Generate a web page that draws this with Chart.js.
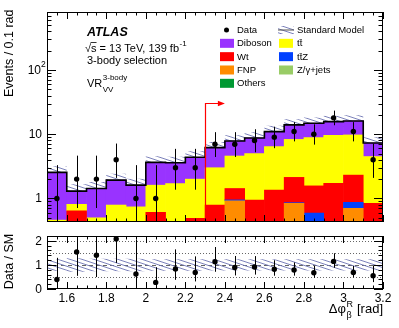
<!DOCTYPE html>
<html>
<head>
<meta charset="utf-8">
<title>VR VV 3-body</title>
<script src="https://cdn.jsdelivr.net/npm/chart.js@4.4.1/dist/chart.umd.min.js"></script>
<style>
  html, body { margin: 0; padding: 0; background: #fff; }
  .wrap { position: relative; width: 399px; height: 328px; }
  canvas { position: absolute; left: 0; }
  #main { top: 0; }
  #ratio { top: 228px; }
</style>
</head>
<body>
<div class="wrap">
  <canvas id="main" width="399" height="228"></canvas>
  <canvas id="ratio" width="399" height="100"></canvas>
</div>
<script>
// bins of delta phi (0.1 rad wide)
const binCenters = [1.55, 1.65, 1.75, 1.85, 1.95, 2.05, 2.15, 2.25, 2.35, 2.45, 2.55, 2.65, 2.75, 2.85, 2.95, 3.05, 3.15];
const dataCounts = [1, 2, 2, 4, 1, 1, 3, 3, 7, 7, 8, 9, 11, 10, 18, 11, 4];
const dataLow = [0.17, 0.71, 0.71, 2.09, 0.17, 0.17, 1.37, 1.37, 4.42, 4.42, 5.23, 6.06, 7.74, 6.89, 13.8, 7.74, 2.09];
const dataHigh = [3.30, 4.64, 4.64, 7.16, 3.30, 3.30, 5.92, 5.92, 10.77, 10.77, 11.95, 13.11, 15.42, 14.27, 23.3, 15.42, 7.16];

// backgrounds, bottom of the stack first
const others = [0.02, 0.02, 0.02, 0.02, 0.02, 0.02, 0.02, 0.02, 0.02, 0.02, 0.02, 0.02, 0.02, 0.02, 0.02, 0.02, 0.02];
const zjets = [0.02, 0.02, 0.02, 0.02, 0.02, 0.02, 0.02, 0.02, 0.02, 0.02, 0.02, 0.02, 0.02, 0.02, 0.02, 0.02, 0.02];
const fnp = [0, 0, 0, 0, 0, 0, 0, 0, 0, 0.88, 0, 0, 0.80, 0, 0, 0.66, 0];
const ttz = [0, 0, 0, 0, 0, 0, 0, 0, 0, 0.03, 0, 0, 0.02, 0.55, 0, 0.17, 0];
const wt = [0.15, 0.60, 0.20, 0.30, 0.25, 0.57, 0.35, 0.45, 0.75, 0.48, 0.90, 1.31, 1.27, 0.98, 1.68, 1.44, 0.80];
const ttbar = [0.27, 0.17, 0.26, 0.45, 0.45, 1.00, 1.31, 1.51, 2.22, 3.15, 4.04, 5.05, 6.17, 7.28, 7.86, 7.44, 3.66];
const diboson = [2.09, 0.49, 0.93, 1.14, 0.87, 2.04, 1.90, 2.37, 3.17, 3.28, 3.77, 4.59, 5.67, 6.00, 6.12, 6.35, 2.80];
const sysFrac = [0.24, 0.28, 0.26, 0.26, 0.26, 0.24, 0.24, 0.24, 0.23, 0.23, 0.23, 0.23, 0.23, 0.23, 0.23, 0.23, 0.23];

const xTicks = [1.6, 1.8, 2, 2.2, 2.4, 2.6, 2.8, 3, 3.2];
const xTickLabels = ['1.6', '1.8', '2', '2.2', '2.4', '2.6', '2.8', '3', '3.2'];
const yTicks = [1, 10, 100];
const yTickLabels = ['1', '10', '10^2'];
const ratioTicks = [0, 1, 2];
const ratioTickLabels = ['0', '1', '2'];
const ratioGuides = [0.5, 1.5, 2];

const legendLeft = ['Data', 'Diboson', 'Wt', 'FNP', 'Others'];
const legendRight = ['Standard Model', 't\u0074\u0304', 't\u0074\u0304Z', 'Z/\u03b3+jets'];

const colors = {
  diboson: '#9933ff', ttbar: '#ffff00', wt: '#ff0000', ttz: '#0040ff',
  fnp: '#ff8c00', zjets: '#99cc66', others: '#009933'
};
const hatchColor = '#6c72b2';

const binWidth = 0.1;
const xMin = 1.5, xMax = 3.2;
const yMin = 0.43, yMax = 800;
const cutValue = 2.3, arrowEnd = 2.4, arrowLevel = 31;

const FONT = '"Liberation Sans", Arial, Helvetica, sans-serif';
const f = (size, style) => (style ? style + ' ' : '') + size + 'px ' + FONT;

const stack = [others, zjets, fnp, ttz, wt, ttbar, diboson];
const total = binCenters.map((_, i) => stack.reduce((s, arr) => s + arr[i], 0));
const ratio = dataCounts.map((n, i) => n / total[i]);

function stepPoints(vals) {
  const pts = binCenters.map((c, i) => ({ x: c - binWidth / 2, y: vals[i] }));
  pts.push({ x: binCenters[binCenters.length - 1] + binWidth / 2, y: vals[vals.length - 1] });
  return pts;
}

function makeHatch() {
  const w = 12, h = 4;
  const c = document.createElement('canvas');
  c.width = w; c.height = h;
  const g = c.getContext('2d');
  g.strokeStyle = hatchColor;
  g.lineWidth = 0.9;
  g.beginPath();
  [-1, 0, 1].forEach(k => { g.moveTo(0, k * h); g.lineTo(w, (k + 1) * h); });
  g.stroke();
  return g.createPattern(c, 'repeat');
}
const hatch = makeHatch();

function drawFrame(chart, sy, yMajor, yMinor, lens) {
  const { ctx, chartArea: a } = chart;
  const sx = chart.scales.x;
  ctx.save();
  ctx.strokeStyle = '#000';
  ctx.lineWidth = 1;
  ctx.beginPath();
  for (let k = 0; k <= 34; k++) {
    const v = xMin + k * 0.05;
    const major = xTicks.some(t => Math.abs(t - v) < 1e-6);
    const len = major ? lens[0] : lens[1];
    const px = Math.round(sx.getPixelForValue(v)) + 0.5;
    ctx.moveTo(px, a.bottom); ctx.lineTo(px, a.bottom - len);
    ctx.moveTo(px, a.top); ctx.lineTo(px, a.top + len);
  }
  const yTick = (v, len) => {
    const py = Math.round(sy.getPixelForValue(v)) + 0.5;
    ctx.moveTo(a.left, py); ctx.lineTo(a.left + len, py);
    ctx.moveTo(a.right, py); ctx.lineTo(a.right - len, py);
  };
  yMajor.forEach(v => yTick(v, lens[2]));
  yMinor.forEach(v => yTick(v, lens[3]));
  ctx.stroke();
  ctx.strokeRect(a.left + 0.5, a.top + 0.5, a.right - a.left - 1, a.bottom - a.top - 1);
  ctx.restore();
}

function drawErrors(chart, sy, lo, hi) {
  const { ctx, chartArea: a } = chart;
  const sx = chart.scales.x;
  ctx.save();
  ctx.beginPath();
  ctx.rect(a.left, a.top, a.right - a.left, a.bottom - a.top);
  ctx.clip();
  ctx.strokeStyle = '#000';
  ctx.lineWidth = 1;
  ctx.beginPath();
  binCenters.forEach((c, i) => {
    const px = Math.round(sx.getPixelForValue(c)) + 0.5;
    ctx.moveTo(px, sy.getPixelForValue(lo[i]));
    ctx.lineTo(px, sy.getPixelForValue(hi[i]));
  });
  ctx.stroke();
  ctx.restore();
}

const mainMinor = [];
[-1, 0, 1, 2].forEach(e => {
  for (let m = 2; m <= 9; m++) {
    const v = m * Math.pow(10, e);
    if (v > yMin && v < yMax) mainMinor.push(v);
  }
});

const mainDecor = {
  id: 'mainDecor',
  afterDatasetsDraw(chart) {
    const { ctx, chartArea: a } = chart;
    const sx = chart.scales.x, sy = chart.scales.yl;
    ctx.save();
    ctx.beginPath();
    ctx.rect(a.left, a.top, a.right - a.left, a.bottom - a.top);
    ctx.clip();
    const cx = Math.round(sx.getPixelForValue(cutValue)) + 0.5;
    const ay = Math.round(sy.getPixelForValue(arrowLevel)) + 0.5;
    const tip = sx.getPixelForValue(arrowEnd);
    ctx.strokeStyle = '#ff0000';
    ctx.fillStyle = '#ff0000';
    ctx.lineWidth = 1.2;
    ctx.beginPath();
    ctx.moveTo(cx, a.bottom); ctx.lineTo(cx, ay); ctx.lineTo(tip - 6, ay);
    ctx.stroke();
    ctx.beginPath();
    ctx.moveTo(tip, ay); ctx.lineTo(tip - 7, ay - 2.8); ctx.lineTo(tip - 7, ay + 2.8);
    ctx.closePath();
    ctx.fill();
    ctx.restore();
    drawErrors(chart, sy, dataLow, dataHigh);
  },
  afterDraw(chart) {
    const { ctx } = chart;
    const sy = chart.scales.yl;
    drawFrame(chart, sy, yTicks, mainMinor, [7, 3.5, 9, 4.5]);

    ctx.save();
    ctx.fillStyle = '#000';
    // y tick labels
    ctx.textBaseline = 'middle';
    yTicks.forEach((v, i) => {
      const py = sy.getPixelForValue(v);
      const parts = yTickLabels[i].split('^');
      if (parts.length > 1) {
        ctx.font = f(8.5); ctx.textAlign = 'left';
        ctx.fillText(parts[1], 41, py - 5);
        ctx.font = f(12); ctx.textAlign = 'right';
        ctx.fillText(parts[0], 41, py + 0.5);
      } else {
        ctx.font = f(12); ctx.textAlign = 'right';
        ctx.fillText(parts[0], 42, py + 0.5);
      }
    });
    // y title
    ctx.save();
    ctx.translate(10, 9.5);
    ctx.rotate(-Math.PI / 2);
    ctx.font = f(12.5);
    ctx.textAlign = 'right';
    ctx.fillText('Events / 0.1 rad', 0, 0);
    ctx.restore();

    // ATLAS label block
    ctx.textBaseline = 'alphabetic';
    ctx.textAlign = 'left';
    ctx.font = f(12.5, 'italic bold');
    ctx.fillText('ATLAS', 87, 35.5);
    ctx.font = f(11);
    const line1 = '\u221as = 13 TeV, 139 fb';
    ctx.fillText(line1, 85, 51.5);
    const wRoot = ctx.measureText('\u221a').width, wS = ctx.measureText('\u221as').width;
    const w1 = ctx.measureText(line1).width;
    ctx.fillRect(85 + wRoot - 0.5, 42, wS - wRoot + 0.5, 0.8);
    ctx.font = f(8);
    ctx.fillText('-1', 85 + w1 + 0.5, 46);
    ctx.font = f(11);
    ctx.fillText('3-body selection', 87, 63.5);
    ctx.fillText('VR', 87, 87.3);
    const wVR = ctx.measureText('VR').width;
    ctx.font = f(8);
    ctx.fillText('3-body', 87 + wVR + 0.5, 79.5);
    ctx.fillText('VV', 87 + wVR + 0.5, 91.5);

    // legend
    const rowY = i => 30 + i * 13.33;
    const leftCols = [null, colors.diboson, colors.wt, colors.fnp, colors.others];
    const rightCols = [null, colors.ttbar, colors.ttz, colors.zjets];
    ctx.font = f(9.5);
    ctx.textBaseline = 'middle';
    legendLeft.forEach((t, i) => {
      const y = rowY(i);
      if (leftCols[i]) {
        ctx.fillStyle = leftCols[i];
        ctx.fillRect(220, y - 4.5, 14, 9);
      } else {
        ctx.fillStyle = '#000';
        ctx.beginPath(); ctx.arc(226.5, y, 2.5, 0, Math.PI * 2); ctx.fill();
      }
      ctx.fillStyle = '#000';
      ctx.fillText(t, 237, y + 0.5);
    });
    legendRight.forEach((t, i) => {
      const y = rowY(i);
      if (rightCols[i]) {
        ctx.fillStyle = rightCols[i];
        ctx.fillRect(279, y - 4.5, 14, 9);
      } else {
        ctx.fillStyle = hatch;
        ctx.fillRect(278, y - 4, 16, 8);
        ctx.fillStyle = '#555';
        ctx.fillRect(278, y - 0.5, 16, 1);
      }
      ctx.fillStyle = '#000';
      ctx.fillText(t, 297, y + 0.5);
    });
    ctx.restore();
  }
};

const barSets = [
  ['Others', others, colors.others],
  ['Z/\u03b3+jets', zjets, colors.zjets],
  ['FNP', fnp, colors.fnp],
  ['ttZ', ttz, colors.ttz],
  ['Wt', wt, colors.wt],
  ['tt', ttbar, colors.ttbar],
  ['Diboson', diboson, colors.diboson]
].map(([label, vals, col]) => ({
  type: 'bar', label, data: vals, backgroundColor: col, borderWidth: 0,
  xAxisID: 'xc', yAxisID: 'y', barPercentage: 1, categoryPercentage: 1, order: 5
}));

const lineBase = { type: 'line', xAxisID: 'x', yAxisID: 'yl', pointRadius: 0, stepped: true };

new Chart(document.getElementById('main'), {
  type: 'bar',
  data: {
    labels: binCenters.map(String),
    datasets: [
      ...barSets,
      { ...lineBase, label: 'band lo', data: stepPoints(total.map((t, i) => t * (1 - sysFrac[i]))),
        borderColor: 'transparent', borderWidth: 1, fill: false, order: 10 },
      { ...lineBase, label: 'band hi', data: stepPoints(total.map((t, i) => t * (1 + sysFrac[i]))),
        borderColor: 'transparent', borderWidth: 1, fill: '-1', backgroundColor: hatch, order: 10 },
      { ...lineBase, label: 'Standard Model', data: stepPoints(total),
        borderColor: '#000', borderWidth: 1.6, fill: false, order: 2 },
      { type: 'line', label: 'Data', xAxisID: 'x', yAxisID: 'yl', showLine: false,
        data: binCenters.map((c, i) => ({ x: c, y: dataCounts[i] })),
        pointRadius: 2.7, pointBackgroundColor: '#000', pointBorderWidth: 0, order: 1 }
    ]
  },
  options: {
    responsive: false,
    animation: false,
    events: [],
    datasets: { bar: { barPercentage: 1, categoryPercentage: 1, grouped: false } },
    layout: { padding: { left: 47, right: 16, top: 12, bottom: 6 } },
    plugins: { legend: { display: false }, tooltip: { enabled: false } },
    scales: {
      xc: { type: 'category', display: false, stacked: true, offset: true },
      x: { type: 'linear', display: false, min: xMin, max: xMax, offset: false },
      y: { type: 'logarithmic', display: false, stacked: true, min: yMin, max: yMax },
      yl: { type: 'logarithmic', display: false, min: yMin, max: yMax }
    }
  },
  plugins: [mainDecor]
});

const ratioMinor = [];
for (let k = 1; k <= 11; k++) {
  const v = k * 0.2;
  if (Math.abs(v - Math.round(v)) > 1e-6) ratioMinor.push(v);
}

const ratioDecor = {
  id: 'ratioDecor',
  beforeDatasetsDraw(chart) {
    const { ctx, chartArea: a } = chart;
    const sy = chart.scales.y;
    ctx.save();
    ctx.strokeStyle = '#666';
    ctx.lineWidth = 1;
    ctx.setLineDash([1, 2]);
    ctx.beginPath();
    ratioGuides.forEach(v => {
      const py = Math.round(sy.getPixelForValue(v)) + 0.5;
      ctx.moveTo(a.left, py); ctx.lineTo(a.right, py);
    });
    ctx.stroke();
    ctx.setLineDash([4, 3]);
    ctx.beginPath();
    const p1 = Math.round(sy.getPixelForValue(1)) + 0.5;
    ctx.moveTo(a.left, p1); ctx.lineTo(a.right, p1);
    ctx.stroke();
    ctx.restore();
  },
  afterDatasetsDraw(chart) {
    drawErrors(chart, chart.scales.y,
      dataLow.map((v, i) => v / total[i]), dataHigh.map((v, i) => v / total[i]));
  },
  afterDraw(chart) {
    const { ctx } = chart;
    const sx = chart.scales.x, sy = chart.scales.y;
    drawFrame(chart, sy, ratioTicks, ratioMinor, [7, 3.5, 9, 4.5]);
    ctx.save();
    ctx.fillStyle = '#000';
    ctx.font = f(12);
    ctx.textAlign = 'right';
    ctx.textBaseline = 'middle';
    ratioTicks.forEach((v, i) => ctx.fillText(ratioTickLabels[i], 42, sy.getPixelForValue(v) + 0.5));
    ctx.textAlign = 'center';
    ctx.textBaseline = 'alphabetic';
    xTicks.forEach((v, i) => ctx.fillText(xTickLabels[i], sx.getPixelForValue(v), 73.7));

    ctx.save();
    ctx.translate(10, 33.5);
    ctx.rotate(-Math.PI / 2);
    ctx.font = f(12.5);
    ctx.textAlign = 'center';
    ctx.textBaseline = 'middle';
    ctx.fillText('Data / SM', 0, 0);
    ctx.restore();

    // x title: delta phi_beta^R [rad]
    ctx.textAlign = 'left';
    ctx.font = f(13);
    const wMain = ctx.measureText('\u0394\u03c6').width;
    const wTail = ctx.measureText(' [rad]').width;
    ctx.font = f(9);
    const wScript = Math.max(ctx.measureText('R').width, ctx.measureText('\u03b2').width);
    const x0 = 383 - wTail - wScript - wMain - 1;
    ctx.font = f(13);
    ctx.fillText('\u0394\u03c6', x0, 84.5);
    ctx.fillText(' [rad]', x0 + wMain + wScript + 1, 84.5);
    ctx.font = f(9);
    ctx.fillText('R', x0 + wMain + 0.5, 78.5);
    ctx.fillText('\u03b2', x0 + wMain + 0.5, 89.5);
    ctx.restore();
  }
};

new Chart(document.getElementById('ratio'), {
  type: 'line',
  data: {
    datasets: [
      { ...lineBase, yAxisID: 'y', label: 'band lo', data: stepPoints(sysFrac.map(u => 1 - u)),
        borderColor: 'transparent', borderWidth: 1, fill: false, order: 10 },
      { ...lineBase, yAxisID: 'y', label: 'band hi', data: stepPoints(sysFrac.map(u => 1 + u)),
        borderColor: 'transparent', borderWidth: 1, fill: '-1', backgroundColor: hatch, order: 10 },
      { type: 'line', label: 'Data / SM', xAxisID: 'x', yAxisID: 'y', showLine: false,
        data: binCenters.map((c, i) => ({ x: c, y: ratio[i] })),
        pointRadius: 2.7, pointBackgroundColor: '#000', pointBorderWidth: 0, order: 1 }
    ]
  },
  options: {
    responsive: false,
    animation: false,
    events: [],
    layout: { padding: { left: 47, right: 16, top: 8, bottom: 39 } },
    plugins: { legend: { display: false }, tooltip: { enabled: false } },
    scales: {
      x: { type: 'linear', display: false, min: xMin, max: xMax },
      y: { type: 'linear', display: false, min: 0, max: 2.2 }
    }
  },
  plugins: [ratioDecor]
});
</script>
</body>
</html>
